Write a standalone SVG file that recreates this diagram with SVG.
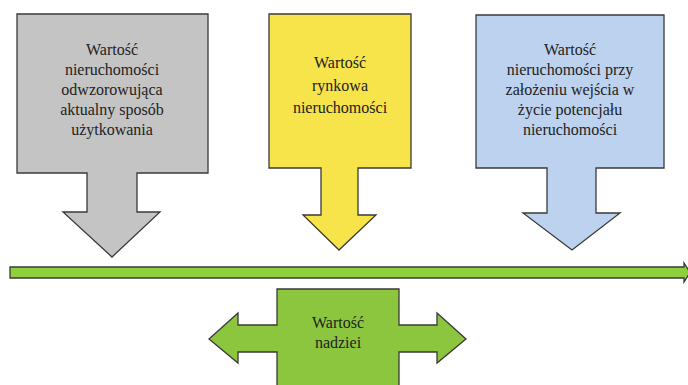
<svg xmlns="http://www.w3.org/2000/svg" width="688" height="385" viewBox="0 0 688 385">
<style>
.sh{stroke:#3a3a3a;stroke-width:1.3;stroke-linejoin:miter}
.t{font-family:'Liberation Serif','Times New Roman',serif;font-size:16px;fill:#222;text-anchor:middle}
</style>
<rect width="688" height="385" fill="#fff"/>
<g id="connectors">
<path class="sh" fill="#8fcf3c" d="M10,267 H684 V263 L690,272.5 L684,282 V278 H10 Z"/>
</g>
<g id="gray">
<path class="sh" fill="#c4c4c4" d="M17,14 H208 V173 H137 V212 H160 L112,257 L63,212 H87 V173 H17 Z"/>
<text class="t" x="112" y="55">Wartość</text>
<text class="t" x="112" y="75">nieruchomości</text>
<text class="t" x="112" y="95">odwzorowująca</text>
<text class="t" x="112" y="115">aktualny sposób</text>
<text class="t" x="112" y="135">użytkowania</text>
</g>
<g id="yellow">
<path class="sh" fill="#f7e34a" d="M269,14 H411 V168 H358 V215 H376 L339,250 L303,215 H321 V168 H269 Z"/>
<text class="t" x="340" y="68">Wartość</text>
<text class="t" x="340" y="91">rynkowa</text>
<text class="t" x="340" y="113">nieruchomości</text>
</g>
<g id="blue">
<path class="sh" fill="#bcd2ee" d="M476,15 H664 V168 H596 V213 H620 L572,250 L523,213 H547 V168 H476 Z"/>
<text class="t" x="570" y="55">Wartość</text>
<text class="t" x="570" y="75">nieruchomości przy</text>
<text class="t" x="570" y="95">założeniu wejścia w</text>
<text class="t" x="570" y="115">życie potencjału</text>
<text class="t" x="570" y="135">nieruchomości</text>
</g>
<g id="green">
<path class="sh" fill="#8cc63f" d="M277,289 H399 V325 H437 V313 L466,339 L437,363 V352 H399 V390 H277 V352 H238 V363 L209,339 L238,313 V325 H277 Z"/>
<text class="t" x="338" y="328">Wartość</text>
<text class="t" x="338" y="348">nadziei</text>
</g>
</svg>
